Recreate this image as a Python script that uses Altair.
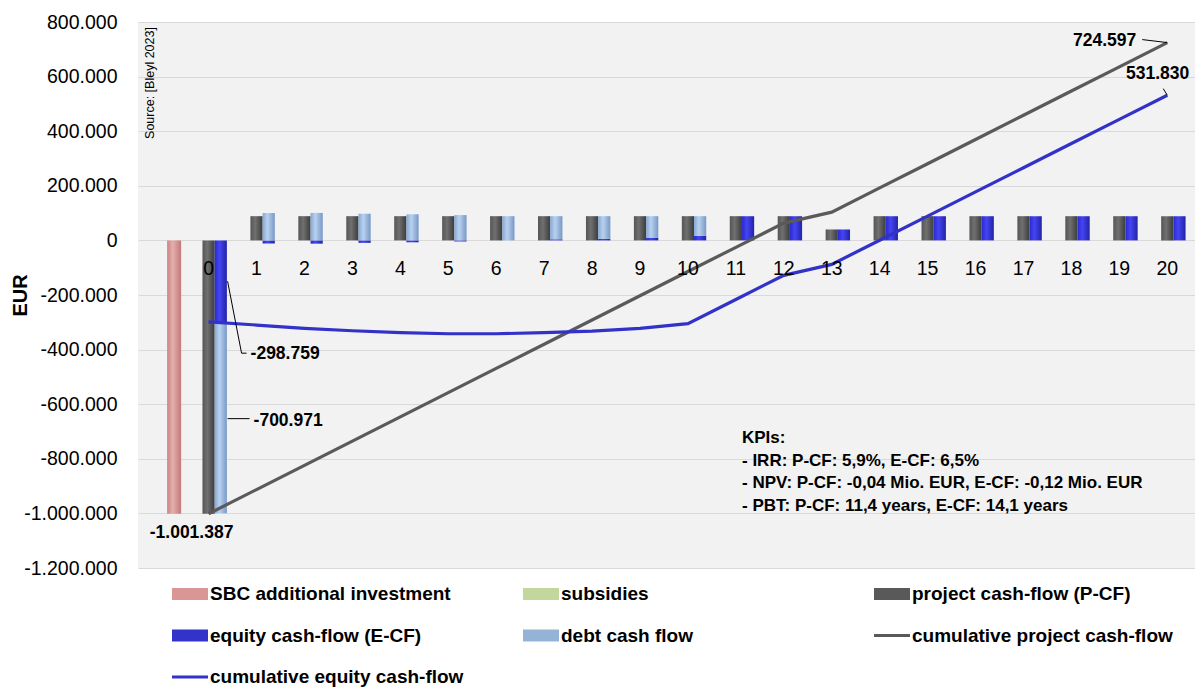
import altair as alt
import pandas as pd
import numpy as np

FONT = "Liberation Sans Narrow, Arial Narrow, Liberation Sans, Arial, sans-serif"

# ---------------- data ----------------
years = [0, 1, 2, 3, 4, 5, 6, 7, 8, 9, 10, 11, 12, 13, 14, 15, 16, 17, 18, 19, 20]
year_labels = ["0", "1", "2", "3", "4", "5", "6", "7", "8", "9", "10",
               "11", "12", "13", "14", "15", "16", "17", "18", "19", "20"]

sbc_position = [-1]
sbc_investment = [-1001387]

subsidies = [0, 0, 0, 0, 0, 0, 0, 0, 0, 0, 0, 0, 0, 0, 0, 0, 0, 0, 0, 0, 0]

project_cf = [-1001387, 88736, 88736, 88736, 88736, 88736, 88736, 88736, 88736, 88736,
              88736, 88736, 88736, 40000, 88736, 88736, 88736, 88736, 88736, 88736, 88736]

equity_cf = [-298759, -11241, -12000, -9000, -7000, -4000, 0, 4000, 6000, 10000,
             17000, 88537, 88537, 39997, 88537, 88537, 88537, 88537, 88537, 88537, 88537]

debt_cf = [-700971, 99977, 100736, 97736, 95736, 92736, 88736, 84736, 82736, 78736,
           71736, 0, 0, 0, 0, 0, 0, 0, 0, 0, 0]

y_ticks = [800000, 600000, 400000, 200000, 0, -200000, -400000, -600000,
           -800000, -1000000, -1200000]

series_names = ["SBC additional investment", "subsidies", "project cash-flow (P-CF)",
                "equity cash-flow (E-CF)", "debt cash flow",
                "cumulative project cash-flow", "cumulative equity cash-flow"]
series_colors = ["#d99694", "#c3d69b", "#595959", "#3333cc", "#95b3d7", "#595959", "#3333cc"]

kpi_lines = ["KPIs:",
             "- IRR: P-CF: 5,9%, E-CF: 6,5%",
             "- NPV: P-CF: -0,04 Mio. EUR, E-CF: -0,12 Mio. EUR",
             "- PBT: P-CF: 11,4 years, E-CF: 14,1 years"]
source_text = "Source: [Bleyl 2023]"
y_title = "EUR"


def de_num(v):
    return f"{int(round(v)):,}".replace(",", ".")


# ---------------- tables ----------------
cum_project = np.cumsum(project_cf)
cum_equity = np.cumsum(equity_cf)

main = pd.DataFrame({
    "year": years,
    "label": year_labels,
    "pcf": project_cf,
    "cum_project": cum_project,
    "cum_equity": cum_equity,
    "zero": [0] * len(years),
})

stack_rows = []
for i, yr in enumerate(years):
    pos, neg = 0, 0
    for name, val in (("equity", equity_cf[i]), ("debt", debt_cf[i])):
        if val >= 0:
            start = pos
            pos += val
        else:
            start = neg
            neg += val
        stack_rows.append({"year": yr, "series": name, "start": start, "end": start + val})
stack = pd.DataFrame(stack_rows)

sbc = pd.DataFrame({"year": sbc_position, "value": sbc_investment})

# annotations derived from the data
eq0, debt0 = equity_cf[0], debt_cf[0]
ann_eq = pd.DataFrame({"year": [0], "v": [eq0 / 2], "text": [de_num(eq0)]})
ann_debt = pd.DataFrame({"year": [0], "v": [eq0 + debt0 / 2], "text": [de_num(debt0)]})
ann_p0 = pd.DataFrame({"year": [0], "v": [project_cf[0]], "text": [de_num(project_cf[0])]})
ann_cp = pd.DataFrame({"year": [years[-1]], "v": [cum_project[-1]], "text": [de_num(cum_project[-1])]})
ann_ce = pd.DataFrame({"year": [years[-1]], "v": [cum_equity[-1]], "text": [de_num(cum_equity[-1])]})

legend_df = pd.DataFrame({"series": series_names, "v": [None] * len(series_names)})
kpi_df = pd.DataFrame({"text": ["\n".join(kpi_lines)]})
src_df = pd.DataFrame({"text": [source_text]})

# ---------------- scales / axis ----------------
xscale = alt.Scale(domain=[-1.368, 20.474], nice=False, zero=False)
yscale = alt.Scale(domain=[-1200000, 800000], nice=False, zero=False)

yaxis = alt.Axis(
    values=y_ticks,
    labelExpr="replace(replace(replace(format(datum.value, ','), ',', '.'), ',', '.'), '\u2212', '-')",
    grid=True, gridColor="#d9d9d9", gridWidth=1,
    domain=False, ticks=False, tickSize=0,
    labelPadding=21, labelFont=FONT, labelFontSize=19.5, labelColor="#000000",
    title=y_title, titleFont=FONT, titleFontSize=20, titleFontWeight="bold",
    titleColor="#000000", titleX=-118, titleY=273, titleAngle=270,
    titleAlign="center", titleBaseline="middle",
)


def X(field="year:Q"):
    return alt.X(field, scale=xscale, axis=None)


def Y(field):
    return alt.Y(field, scale=yscale, axis=yaxis)


def grad(c0, c1, c2):
    return alt.Gradient(gradient="linear", x1=0, x2=1, y1=0, y2=0,
                        stops=[alt.GradientStop(color=c0, offset=0),
                               alt.GradientStop(color=c1, offset=0.4),
                               alt.GradientStop(color=c2, offset=1)])


BW = 12.2
OFF = 12.2

pcf_bars = alt.Chart(main).mark_bar(width=BW, color=grad("#555555", "#707070", "#3c3c3c")).encode(
    x=X(), y=Y("pcf:Q"), y2="zero:Q"
)

eq_bars = alt.Chart(stack[stack.series == "equity"]).mark_bar(
    width=BW, xOffset=OFF, color=grad("#2a2ad0", "#4545f2", "#2222a8")
).encode(x=X(), y=Y("start:Q"), y2="end:Q")

debt_bars = alt.Chart(stack[stack.series == "debt"]).mark_bar(
    width=BW, xOffset=OFF, color=grad("#86a8d3", "#b9d1ef", "#7798c6")
).encode(x=X(), y=Y("start:Q"), y2="end:Q")

sbc_bars = alt.Chart(sbc.assign(zero=0)).mark_bar(
    width=14, xOffset=13.5, color=grad("#c98482", "#e6aeac", "#c07a79")
).encode(x=X(), y=Y("value:Q"), y2="zero:Q")

line_p = alt.Chart(main).mark_line(color="#5a5a5a", strokeWidth=3.2).encode(
    x=X(), y=Y("cum_project:Q"))
line_e = alt.Chart(main).mark_line(color="#3232c8", strokeWidth=3.2).encode(
    x=X(), y=Y("cum_equity:Q"))

cat_labels = alt.Chart(main).mark_text(
    dy=29, font=FONT, fontSize=19.5, color="#000000", baseline="middle"
).encode(x=X(), y=Y("zero:Q"), text="label:N")

txt = dict(font=FONT, fontSize=17.5, fontWeight="bold", color="#000000", baseline="middle")

t_eq = alt.Chart(ann_eq).mark_text(align="left", dx=42, dy=73, **txt).encode(
    x=X(), y=Y("v:Q"), text="text:N")
r_eq1 = alt.Chart(ann_eq).mark_rule(color="#000000", strokeWidth=1, xOffset=19, x2Offset=33,
                                    y2Offset=72).encode(
    x=X(), x2="year:Q", y=Y("v:Q"), y2="v:Q")
r_eq2 = alt.Chart(ann_eq).mark_rule(color="#000000", strokeWidth=1, xOffset=33, x2Offset=38,
                                    yOffset=72, y2Offset=72).encode(
    x=X(), x2="year:Q", y=Y("v:Q"), y2="v:Q")

t_debt = alt.Chart(ann_debt).mark_text(align="left", dx=45, dy=3, **txt).encode(
    x=X(), y=Y("v:Q"), text="text:N")
r_debt = alt.Chart(ann_debt).mark_rule(color="#000000", strokeWidth=1, xOffset=19, x2Offset=41,
                                       yOffset=1, y2Offset=1).encode(
    x=X(), x2="year:Q", y=Y("v:Q"), y2="v:Q")

t_p0 = alt.Chart(ann_p0).mark_text(align="center", dx=-17, dy=19, **txt).encode(
    x=X(), y=Y("v:Q"), text="text:N")

t_cp = alt.Chart(ann_cp).mark_text(align="right", dx=-31, dy=-2, **txt).encode(
    x=X(), y=Y("v:Q"), text="text:N")
r_cp = alt.Chart(ann_cp).mark_rule(color="#000000", strokeWidth=1, xOffset=-25, yOffset=-3).encode(
    x=X(), x2="year:Q", y=Y("v:Q"), y2="v:Q")

t_ce = alt.Chart(ann_ce).mark_text(align="right", dx=22, dy=-21, **txt).encode(
    x=X(), y=Y("v:Q"), text="text:N")
r_ce = alt.Chart(ann_ce).mark_rule(color="#000000", strokeWidth=1, xOffset=-4, yOffset=-6.5).encode(
    x=X(), x2="year:Q", y=Y("v:Q"), y2="v:Q")

kpi = alt.Chart(kpi_df).mark_text(
    align="left", baseline="top", lineBreak="\n", lineHeight=22.7,
    font=FONT, fontSize=17, fontWeight="bold", color="#000000"
).encode(x=alt.value(604), y=alt.value(408), text="text:N")

src = alt.Chart(src_df).mark_text(
    angle=270, font=FONT, fontSize=12.5, color="#000000", baseline="middle", align="center"
).encode(x=alt.value(12), y=alt.value(61), text="text:N")

rect_path = "M-1,-0.33H1V0.33H-1Z"
line_path = "M-1,-0.085H1V0.085H-1Z"
series_shapes = [rect_path, rect_path, rect_path, rect_path, rect_path, line_path, line_path]

leg = alt.Legend(
    title=None, orient="none", legendX=34, legendY=554, columns=3, direction="horizontal",
    gridAlign="all", columnPadding=52, rowPadding=13.5,
    symbolSize=1296, symbolStrokeWidth=0, symbolOpacity=1,
    labelFont=FONT, labelFontSize=19, labelFontWeight="bold", labelColor="#000000",
    labelOffset=2, labelLimit=500,
)

legend_layer = alt.Chart(legend_df).mark_point(filled=True, opacity=1).encode(
    x=alt.X("v:Q", scale=xscale, axis=None),
    y=Y("v:Q"),
    color=alt.Color("series:N", scale=alt.Scale(domain=series_names, range=series_colors),
                    sort=series_names, legend=leg),
    shape=alt.Shape("series:N", scale=alt.Scale(domain=series_names, range=series_shapes),
                    sort=series_names, legend=leg),
)

chart = alt.layer(
    pcf_bars, sbc_bars, eq_bars, debt_bars,
    line_p, line_e,
    cat_labels,
    r_eq1, r_eq2, t_eq, r_debt, t_debt, t_p0, r_cp, t_cp, r_ce, t_ce,
    kpi, src, legend_layer,
).properties(
    width=1057, height=546,
    autosize=alt.AutoSizeParams(type="none"),
    padding={"left": 130, "top": 14, "right": 0, "bottom": 123},
    background="#ffffff",
).configure_view(
    fill="#f2f2f2", stroke=None
)

chart.save("out.html", embed_options={"renderer": "svg", "actions": False})
